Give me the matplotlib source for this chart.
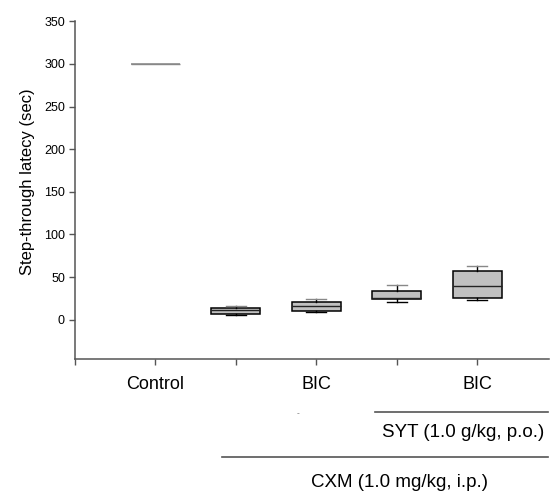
import matplotlib
matplotlib.use("Agg")
import matplotlib.pyplot as plt
import matplotlib.transforms as mtransforms

plt.rcParams['font.family'] = ['Liberation Sans', 'DejaVu Sans']

# box statistics (sec)
groups = ['Control', 'CXM', 'CXM+BIC', 'CXM+SYT', 'CXM+SYT+BIC']
positions = [1, 2, 3, 4, 5]
medians = [300, 11, 15.8, 25.5, 39.3]
q1 = [300, 7.1, 10.6, 24.7, 25.2]
q3 = [300, 14.1, 20.5, 33.8, 57.3]
whis_lo = [300, 5.9, 9.4, 21.2, 23.5]
whis_hi = [300, 15.8, 24.0, 41.2, 62.8]

tick_pos = [0, 1, 2, 3, 4, 5]
tick_labels = ['', 'Control', '', 'BIC', '', 'BIC']
yticks = [0, 50, 100, 150, 200, 250, 300, 350]

axis_col = '#555555'

fig = plt.figure(figsize=(5.5, 4.93), dpi=100)
ax = fig.add_axes([0.1358, 0.2718, 0.862, 0.685])

stats = []
for i in range(len(groups)):
    stats.append({'label': groups[i], 'med': medians[i], 'q1': q1[i], 'q3': q3[i],
                  'whislo': whis_lo[i], 'whishi': whis_hi[i], 'fliers': []})

bp = ax.bxp(stats, positions=positions, widths=0.61, patch_artist=True,
            showfliers=False,
            boxprops=dict(facecolor='#c0c0c0', edgecolor='black', linewidth=1.1),
            medianprops=dict(color='#222222', linewidth=1.0),
            whiskerprops=dict(color='black', linewidth=1.0),
            capprops=dict(color='black', linewidth=1.0),
            capwidths=0.25)

# control is a flat line, grey
bp['boxes'][0].set_edgecolor('#888888')
bp['medians'][0].set_color('#888888')
for c in bp['caps'][0:2]:
    c.set_visible(False)
# lower caps look grey in the original
for c in bp['caps'][3::2]:
    c.set_color('#888888')

ax.set_xlim(0, 5.89)
ax.set_ylim(-46, 350)
ax.set_yticks(yticks)
ax.set_xticks(tick_pos)
ax.set_xticklabels(tick_labels, fontsize=13)
ax.tick_params(axis='y', labelsize=9, length=4, width=1, color=axis_col, pad=3)
ax.tick_params(axis='x', length=4, width=1, color=axis_col, pad=8)
ax.spines['top'].set_visible(False)
ax.spines['right'].set_visible(False)
for s in ['left', 'bottom']:
    ax.spines[s].set_color(axis_col)
    ax.spines[s].set_linewidth(1.1)
ax.spines['left'].set_bounds(-46, 350)

ax.set_ylabel('Step-through latecy (sec)', fontsize=12)
ax.yaxis.set_label_coords(-0.084, 0.524)

# treatment group annotation below the axis
trans = mtransforms.blended_transform_factory(ax.transData, fig.transFigure)
ax.plot([3.735, 5.874], [0.165, 0.165], color='#555555', lw=1.2,
        transform=trans, clip_on=False)
ax.text(4.83, 0.122, 'SYT (1.0 g/kg, p.o.)', fontsize=13.5, ha='center',
        va='center', transform=trans)
ax.plot([1.83, 5.874], [0.073, 0.073], color='#555555', lw=1.2,
        transform=trans, clip_on=False)
ax.text(4.04, 0.022, 'CXM (1.0 mg/kg, i.p.)', fontsize=13.5, ha='center',
        va='center', transform=trans)
ax.text(2.77, 0.16, '-', fontsize=6, ha='center', va='center',
        color='#666666', transform=trans)

fig.savefig('out.png', dpi=100)
